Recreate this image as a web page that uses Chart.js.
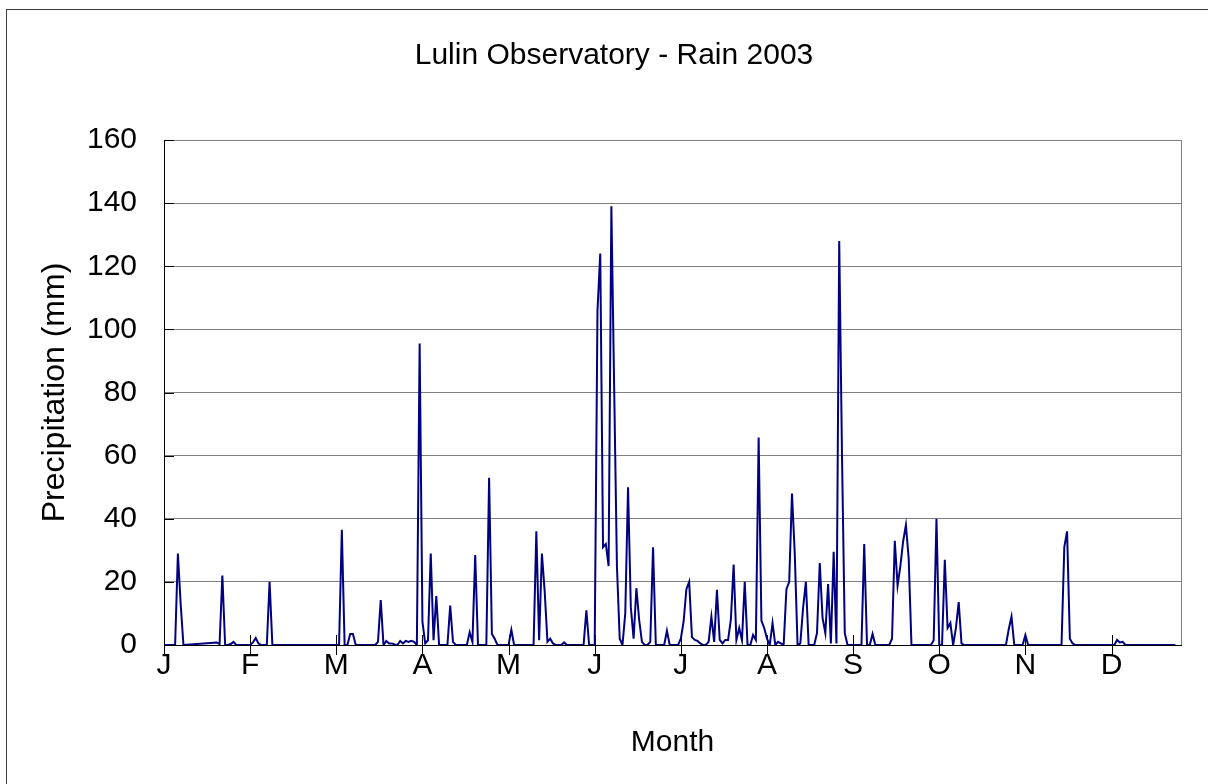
<!DOCTYPE html>
<html>
<head>
<meta charset="utf-8">
<title>Lulin Observatory - Rain 2003</title>
<script src="https://cdn.jsdelivr.net/npm/chart.js@4.4.1/dist/chart.umd.min.js"></script>
<style>
  html, body { margin: 0; padding: 0; background: #fff; }
  #wrap { position: relative; width: 1208px; height: 784px; overflow: hidden; }
</style>
</head>
<body>
<div id="wrap"><canvas id="rainChart" width="1208" height="784"></canvas></div>
<script>
// Month letters shown every 31 days on the category axis
var monthLabels = ["J", "F", "M", "A", "M", "J", "J", "A", "S", "O", "N", "D"];
var labelEvery = 31;
var yTicks = [0, 20, 40, 60, 80, 100, 120, 140, 160];
var chartTitle = "Lulin Observatory - Rain 2003";

// Daily precipitation (mm), 1 Jan - 31 Dec 2003, null = no record
var rainJan = [0, 0, 0, 0, 0, 29, 13, 0, null, null, null, null, null, null, null, null,
  null, null, null, 0.8, 0.3, 22, 0, 0, 0.3, 1, 0, 0, 0, 0, 0];
var rainFeb = [0, 0.8, 2.2, 0.5, 0, 0, 0, 20, 0, 0, 0, 0, 0, 0, 0, 0,
  0, 0, 0, 0, 0, 0, 0, 0, 0, 0, 0, 0];
var rainMar = [0, 0, 0, 0, 0, 36.5, 0, 0, 3.5, 3.5, 0, 0, 0, 0, 0, 0,
  0, 0, 1, 14.2, 0, 1.3, 0.5, 0.5, 0.2, 0, 1.3, 0.5, 1.3, 1, 1.3];
var rainApr = [1, 0, 95.5, 7.5, 0.5, 1.5, 29, 1.5, 15.5, 0, 0, 0, 0, 12.5, 1, 0,
  0, 0, 0, 0, 4, 1, 28.5, 0, 0, 0, 0, 53, 3.5, 2];
var rainMay = [0, 0, 0, 0, 0, 4.8, 0, 0, 0, 0, 0, 0, 0, 0, 36, 1.5,
  29, 17, 1, 2, 0.5, 0, 0, 0, 0.8, 0, 0, 0, 0, 0, 0];
var rainJun = [0, 11, 0, 0, 0, 106, 124, 31, 32, 25, 139, 82, 25, 2, 0, 10,
  50, 12, 2, 18, 8, 1, 0, 0, 1, 31, 0, 0, 0, 0];
var rainJul = [4.5, 0, 0, 0, 0, 2, 7.5, 17.7, 20, 2.5, 1.6, 1.3, 0.5, 0, 0, 1,
  9, 1, 17.5, 1.6, 0.5, 1.6, 1.6, 8, 25.5, 1.6, 5.4, 1.5, 20, 0, 0];
var rainAug = [3.2, 1.6, 65.7, 7.7, 5.4, 2, 0, 7, 0, 1, 0.5, 0, 17.7, 20, 48, 29,
  0, 0.5, 11.8, 20, 0, 0, 0, 3.8, 26, 8.6, 3.8, 19.3, 0.5, 29.5, 0.5];
var rainSep = [128, 60, 3.7, 0, 0, 0, 0, 0, 0, 32, 0, 0, 3.5, 0, 0, 0,
  0, 0, 0, 2, 33, 18.8, 25, 32.8, 38, 27.4, 0, 0, 0, 0];
var rainOct = [0, 0, 0, 0, 1.5, 40, 0, 0, 27, 5.4, 7, 0, 5.4, 13.6, 0.5, 0,
  0, 0, 0, 0, 0, 0, 0, 0, 0, 0, 0, 0, 0, 0, 0];
var rainNov = [5, 9, 0, 0, 0, 0, 3.2, 0, 0, 0, 0, 0, 0, 0, 0, 0,
  0, 0, 0, 0, 31, 36, 2, 0.5, 0, 0, 0, 0, 0, 0];
var rainDec = [0, 0, 0, 0, 0, 0, 0, 0, 0, 1.6, 0.8, 1, 0, 0, 0, 0,
  0, 0, 0, 0, 0, 0, 0, 0, 0, 0, 0, 0, 0, 0, 0];

var rain = [].concat(rainJan, rainFeb, rainMar, rainApr, rainMay, rainJun,
  rainJul, rainAug, rainSep, rainOct, rainNov, rainDec);

var fontFamily = "'Liberation Sans', Arial, sans-serif";
var fontSize = 30;

// Excel chart object box (runs past the right and bottom edge of the picture)
var frameBox = { left: 6.5, top: 9.5, width: 1215, height: 800 };

// Excel style frame: outer border, title, plot border, inside / cross tick marks
var excelFrame = {
  id: "excelFrame",
  beforeDraw: function (chart) {
    var ctx = chart.ctx;
    ctx.save();
    ctx.fillStyle = "#fff";
    ctx.fillRect(0, 0, chart.width, chart.height);
    ctx.strokeStyle = "#3c3c3c";
    ctx.lineWidth = 1;
    ctx.strokeRect(frameBox.left, frameBox.top, frameBox.width, frameBox.height);

    ctx.fillStyle = "#000";
    ctx.font = fontSize + "px " + fontFamily;
    ctx.textAlign = "center";
    ctx.textBaseline = "middle";
    ctx.fillText(chartTitle, frameBox.left + frameBox.width / 2, 56);
    ctx.restore();
  },
  beforeDatasetsDraw: function (chart) {
    var ctx = chart.ctx;
    var a = chart.chartArea;
    var x = chart.scales.x;
    var y = chart.scales.y;
    ctx.save();
    ctx.lineWidth = 1;
    ctx.strokeStyle = "#808080";
    ctx.beginPath();
    ctx.moveTo(Math.round(a.right) + 0.5, a.top);
    ctx.lineTo(Math.round(a.right) + 0.5, a.bottom);
    ctx.stroke();

    ctx.strokeStyle = "#000";
    ctx.beginPath();
    y.ticks.forEach(function (t) {
      var py = Math.round(y.getPixelForValue(t.value)) + 0.5;
      ctx.moveTo(a.left, py);
      ctx.lineTo(a.left + 10, py);
    });
    x.ticks.forEach(function (t) {
      var px = Math.round(x.getPixelForValue(t.value)) + 0.5;
      ctx.moveTo(px, a.bottom - 10);
      ctx.lineTo(px, a.bottom + 10);
    });
    ctx.stroke();
    ctx.restore();
  }
};

var ctx = document.getElementById("rainChart").getContext("2d");
var rainChart = new Chart(ctx, {
  type: "line",
  data: {
    datasets: [
      {
        data: rain.map(function (v, i) { return { x: i, y: v }; }),
        borderColor: "#000080",
        backgroundColor: "#000080",
        borderWidth: 2,
        pointRadius: 0,
        tension: 0,
        spanGaps: true,
        fill: false
      }
    ]
  },
  options: {
    responsive: false,
    animation: false,
    devicePixelRatio: 1,
    layout: { padding: { left: 0, right: 27, top: 140, bottom: 0 } },
    plugins: {
      legend: { display: false },
      tooltip: { enabled: false },
      title: { display: false }
    },
    scales: {
      x: {
        type: "linear",
        min: 0,
        max: 366,
        afterFit: function (scale) { scale.height = 139; },
        afterBuildTicks: function (scale) {
          scale.ticks = monthLabels.map(function (m, i) { return { value: i * labelEvery }; });
        },
        grid: { display: false, drawTicks: false },
        border: { display: true, color: "#000", width: 1 },
        ticks: {
          autoSkip: false,
          maxRotation: 0,
          padding: 3,
          color: "#000",
          font: { family: fontFamily, size: fontSize },
          callback: function (value) { return monthLabels[Math.round(value / labelEvery)]; }
        },
        title: {
          display: true,
          text: "Month",
          color: "#000",
          font: { family: fontFamily, size: fontSize },
          padding: { top: 0, bottom: 23 }
        }
      },
      y: {
        min: 0,
        max: 160,
        afterFit: function (scale) { scale.width = 164; },
        afterBuildTicks: function (scale) {
          scale.ticks = yTicks.map(function (v) { return { value: v }; });
        },
        grid: { color: "#808080", lineWidth: 1, drawTicks: false },
        border: { display: true, color: "#000", width: 1 },
        ticks: {
          padding: 27,
          color: "#000",
          font: { family: fontFamily, size: fontSize }
        },
        title: {
          display: true,
          text: "Precipitation (mm)",
          color: "#000",
          font: { family: fontFamily, size: 32 },
          padding: { top: 36, bottom: 0 }
        }
      }
    }
  },
  plugins: [excelFrame]
});
</script>
</body>
</html>
